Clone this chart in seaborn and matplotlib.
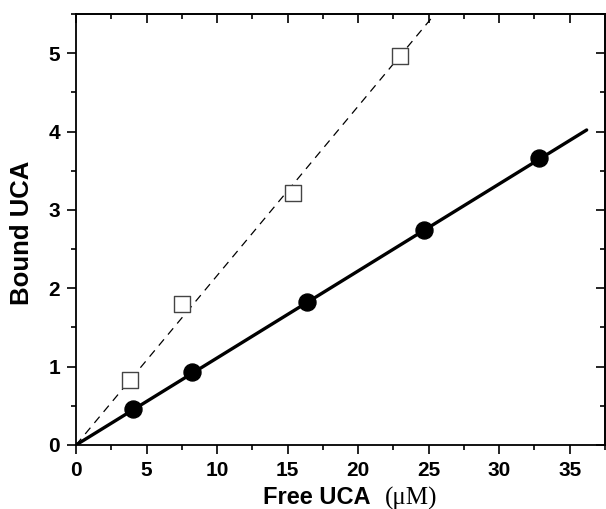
import numpy as np
import pandas as pd
import matplotlib
matplotlib.use("Agg")
import matplotlib.pyplot as plt
import seaborn as sns
from matplotlib.ticker import MultipleLocator

# Data
free_circle = [4.05, 8.2, 16.4, 24.65, 32.8]
bound_circle = [0.46, 0.93, 1.83, 2.75, 3.66]
free_square = [3.8, 7.5, 15.4, 23.0]
bound_square = [0.83, 1.80, 3.21, 4.96]
fit_solid_x = [0.0, 36.2]
fit_solid_y = [0.0, 4.02]
fit_dash_x = [0.0, 26.0]
fit_dash_y = [0.0, 5.62]
x_ticks = [0, 5, 10, 15, 20, 25, 30, 35]
y_ticks = [0, 1, 2, 3, 4, 5]

sns.set_theme(style="white")
plt.rcParams['font.family'] = ['Liberation Sans', 'DejaVu Sans']
plt.rcParams.update({"text.color": "black", "axes.labelcolor": "black",
                     "xtick.color": "black", "ytick.color": "black"})

W, H = 606, 509
fig = plt.figure(figsize=(W / 100, H / 100), dpi=100)
ax = fig.add_axes([76 / W, 1 - 445 / H, (605 - 76) / W, (445 - 14) / H])

df_c = pd.DataFrame({"x": free_circle, "y": bound_circle})
df_s = pd.DataFrame({"x": free_square, "y": bound_square})
df_fs = pd.DataFrame({"x": fit_solid_x, "y": fit_solid_y})
df_fd = pd.DataFrame({"x": fit_dash_x, "y": fit_dash_y})

sns.lineplot(data=df_fs, x="x", y="y", ax=ax, color="black", lw=2.4, zorder=2)
sns.lineplot(data=df_fd, x="x", y="y", ax=ax, color="black", lw=0.9, zorder=2)
ax.lines[-1].set_dashes([6.5, 5])
sns.scatterplot(data=df_c, x="x", y="y", ax=ax, marker="o", s=150,
                color="black", edgecolor="black", zorder=3)
sns.scatterplot(data=df_s, x="x", y="y", ax=ax, marker="s", s=125,
                facecolor="white", edgecolor="#444444", linewidth=1.0, zorder=3)

ax.set_xlim(0, 37.5)
ax.set_ylim(0, 5.5)
ax.set_xticks(x_ticks)
ax.set_yticks(y_ticks)
ax.xaxis.set_minor_locator(MultipleLocator(2.5))
ax.yaxis.set_minor_locator(MultipleLocator(0.5))

for s in ax.spines.values():
    s.set_visible(True)
    s.set_color("black")
    s.set_linewidth(1.3)

ax.tick_params(which="both", direction="out", bottom=True, left=True,
               top=False, right=False, color="black", labelcolor="black", width=1.2)
ax.tick_params(which="major", length=6.5, labelsize=15, pad=5)
ax.tick_params(which="minor", length=3.5)
for lab in ax.get_xticklabels() + ax.get_yticklabels():
    lab.set_fontweight("bold")

# inward ticks on top and right
axt = ax.secondary_xaxis("top")
axt.set_xticks(x_ticks)
axt.xaxis.set_minor_locator(MultipleLocator(2.5))
axt.tick_params(which="both", direction="in", color="black", width=1.2, labeltop=False)
axt.tick_params(which="major", length=6.5)
axt.tick_params(which="minor", length=3.5)
axt.spines["top"].set_linewidth(1.3)
axr = ax.secondary_yaxis("right")
axr.set_yticks(y_ticks)
axr.yaxis.set_minor_locator(MultipleLocator(0.5))
axr.tick_params(which="both", direction="in", color="black", width=1.2, labelright=False)
axr.tick_params(which="major", length=6.5)
axr.tick_params(which="minor", length=3.5)
axr.spines["right"].set_linewidth(1.3)
ax.set_xlabel("")
ax.set_ylabel("")

# Axis titles
fig.text(22 / W, 1 - 232.5 / H, "Bound UCA", rotation=90, ha="center", va="center",
         fontsize=18.5, fontweight="bold", color="black")
t1 = fig.text(263 / W, 4.5 / H, "Free UCA", ha="left", va="baseline",
              fontsize=17, fontweight="bold", color="black")
fig.canvas.draw()
r = fig.canvas.get_renderer()
bb = t1.get_window_extent(r)
fig.text((bb.x1 + 14) / W, 4.5 / H, "(\u03bcM)", ha="left", va="baseline",
         fontsize=18, color="black", family=["Liberation Serif", "DejaVu Serif"])

fig.savefig("out.png", dpi=100)
